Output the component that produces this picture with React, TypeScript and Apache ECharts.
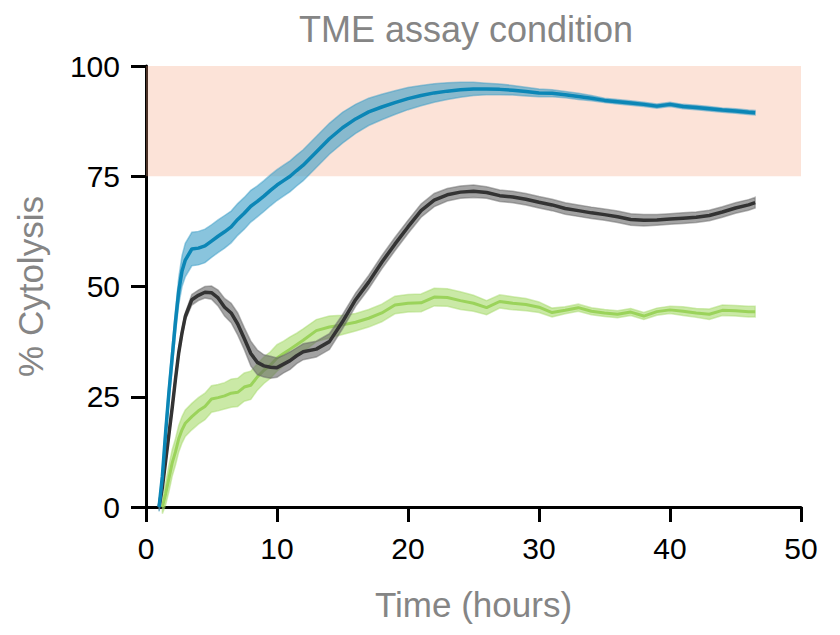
import React, { useEffect, useRef } from "react";
import * as echarts from "echarts";

const hours = [
  1, 1.25, 1.5, 1.75, 2, 2.25, 2.5, 2.75, 3,
  3.5, 4, 4.5, 5, 5.5, 6, 6.5, 7, 7.5, 8, 8.5, 9, 9.5, 10, 10.5, 11, 11.5, 12,
  13, 14, 15, 16, 17, 18, 19, 20, 21, 22, 23, 24, 25, 26, 27, 28, 29, 30,
  31, 32, 33, 34, 35, 36, 37, 38, 39, 40, 41, 42, 43, 44, 45, 46, 46.5,
];

const blueMean = [
  0, 7, 17, 26, 34, 42, 49, 53.5, 56,
  58.5, 58.7, 59.2, 60.3, 61.4, 62.4, 63.5, 65.2, 66.6, 68.2, 69.3, 70.5, 71.8, 73, 74, 75, 76.3, 77.5,
  80.5, 83.5, 86, 88, 89.6, 90.7, 91.7, 92.6, 93.3, 93.9, 94.3, 94.6, 94.8, 94.8, 94.7, 94.5, 94.2, 93.9,
  93.8, 93.5, 93.1, 92.7, 92.2, 91.9, 91.6, 91.3, 90.9, 91.3, 90.8, 90.6, 90.3, 90.0, 89.8, 89.5, 89.4,
];
const blueErr = [
  1, 1.5, 2, 2, 2.5, 2.5, 3, 3.5, 3.8,
  3.8, 3.8, 3.8, 3.7, 3.7, 3.7, 3.6, 3.6, 3.6, 3.6, 3.5, 3.5, 3.5, 3.5, 3.5, 3.5, 3.5, 3.5,
  3.5, 3.5, 3.5, 3.3, 3.1, 2.9, 2.7, 2.5, 2.3, 2.1, 1.9, 1.7, 1.5, 1.3, 1.2, 1.1, 1.0, 0.9,
  0.8, 0.7, 0.7, 0.6, 0.5, 0.5, 0.5, 0.5, 0.5, 0.5, 0.5, 0.5, 0.5, 0.5, 0.5, 0.5, 0.5,
];

const blackMean = [
  0, 4.5, 10.5, 16.5, 22.5, 29, 35, 39.5, 43.2,
  47, 48, 48.7, 48.6, 47.4, 45.3, 44, 41.5, 38.2, 34.8, 32.8, 32, 31.7, 31.6, 32.4, 33.2, 34.3, 35.2,
  35.8, 37.5, 42, 47, 51, 55.5, 59.6, 63.5, 67.2, 69.6, 70.8, 71.4, 71.6, 71.3, 70.6, 70.3, 69.8, 69.1,
  68.5, 67.7, 67.2, 66.7, 66.3, 65.8, 65.2, 65.0, 65.1, 65.3, 65.5, 65.7, 66.1, 66.9, 67.8, 68.5, 69,
];
const blackErr = [
  0.8, 0.8, 0.8, 0.8, 0.8, 0.8, 0.8, 0.8, 0.8,
  1.2, 1.2, 1.3, 1.5, 1.8, 2, 2.2, 2.5, 2.5, 2.8, 2.8, 2.5, 2.5, 2.2, 2, 2, 1.8, 1.8,
  1.8, 1.8, 1.6, 1.5, 1.5, 1.5, 1.5, 1.5, 1.5, 1.5, 1.4, 1.4, 1.4, 1.3, 1.3, 1.3, 1.3, 1.3,
  1.3, 1.3, 1.3, 1.3, 1.3, 1.3, 1.3, 1.3, 1.2, 1.2, 1.2, 1.2, 1.2, 1.2, 1.2, 1.2, 1.2,
];

const greenMean = [
  null, 0, 3, 6.5, 10, 12.5, 15.5, 17.5, 19,
  20.5, 21.8, 22.8, 24.5, 24.8, 25.2, 25.8, 26, 27.2, 27.6, 29.5, 31, 32.2, 33.8, 34.8, 35.8, 36.8, 37.8,
  40, 40.8, 41.3, 41.9, 42.8, 44, 45.8, 46.2, 46.3, 47.6, 47.5, 46.8, 46.2, 45.2, 46.6, 46.2, 45.9, 45.3,
  44.1, 44.6, 45.2, 44.4, 44.0, 43.7, 44.2, 43.3, 44.3, 44.7, 44.4, 44.0, 43.7, 44.6, 44.5, 44.3, 44.3,
];
const greenErr = [
  null, 1.5, 2.5, 3, 3, 3, 3, 3, 3,
  3, 3, 3, 3, 3, 3, 3.2, 3.2, 3.2, 3.2, 3, 3, 3, 3, 2.8, 2.8, 2.6, 2.6,
  2.5, 2.5, 2.2, 2, 2, 2, 2, 2, 2, 2, 2, 2, 1.8, 1.6, 1.5, 1.5, 1.4, 1.2,
  1, 0.8, 0.8, 0.8, 0.8, 0.8, 0.8, 0.8, 0.8, 0.8, 1, 1, 1.2, 1.2, 1.2, 1.2, 1.2,
];

const goalBand = [75, 100];
const xTicks = { min: 0, max: 50, interval: 10 };
const yTicks = { min: 0, max: 100, interval: 25 };

const FONT = "'Liberation Sans', Arial, Helvetica, sans-serif";
const GRAY = "#858585";

function validIdx(mean: (number | null)[], err: (number | null)[]) {
  return hours.map((_, i) => i).filter((i) => mean[i] != null && err[i] != null);
}

// SEM band: polygon through mean±err of every point, placed via the axis scales.
function bandSeries(key: string, mean: (number | null)[], err: (number | null)[], color: string, opacity: number, z: number) {
  const idx = validIdx(mean, err);
  const rows = idx.map((i) => [hours[i], (mean[i] as number) - (err[i] as number), (mean[i] as number) + (err[i] as number)]);
  return {
    name: key + "-sem",
    type: "custom",
    silent: true,
    z,
    data: [[0]],
    renderItem: (_params: any, api: any) => {
      const upper = rows.map((r) => api.coord([r[0], r[2]]));
      const lower = rows.map((r) => api.coord([r[0], r[1]])).reverse();
      return {
        type: "polygon",
        shape: { points: upper.concat(lower) },
        style: { fill: color, opacity, stroke: color, lineWidth: 1.5, strokeOpacity: 0.8 },
      };
    },
  };
}

function meanSeries(key: string, mean: (number | null)[], err: (number | null)[], color: string, width: number, z: number) {
  const idx = validIdx(mean, err);
  return {
    name: key,
    type: "line",
    data: idx.map((i) => [hours[i], mean[i]]),
    symbol: "none",
    lineStyle: { color, width },
    z,
  };
}

export default function App() {
  const ref = useRef<HTMLDivElement>(null);
  useEffect(() => {
    if (!ref.current) return;
    const chart = echarts.init(ref.current, null, { renderer: "svg" });
    const option = {
      animation: false,
      backgroundColor: "#ffffff",
      title: {
        text: "TME assay condition",
        left: 461,
        textAlign: "center",
        top: 6,
        textStyle: { fontSize: 36, fontWeight: "normal", color: GRAY, fontFamily: FONT },
      },
      grid: { left: 146, right: 39, top: 66, bottom: 128, containLabel: false },
      xAxis: {
        type: "value",
        ...xTicks,
        name: "Time (hours)",
        nameLocation: "middle",
        nameGap: 80,
        nameTextStyle: { fontSize: 35, color: GRAY, fontFamily: FONT },
        axisLine: { show: true, lineStyle: { color: "#000", width: 3 } },
        axisTick: { show: true, length: 15, lineStyle: { color: "#000", width: 3 } },
        axisLabel: { fontSize: 30, color: "#000", fontFamily: FONT, margin: 26 },
        splitLine: { show: false },
      },
      yAxis: {
        type: "value",
        ...yTicks,
        name: "% Cytolysis",
        nameLocation: "middle",
        nameGap: 98,
        nameTextStyle: { fontSize: 35, color: GRAY, fontFamily: FONT },
        axisLine: { show: true, lineStyle: { color: "#000", width: 3 } },
        axisTick: { show: true, length: 15, lineStyle: { color: "#000", width: 3 } },
        axisLabel: { fontSize: 30, color: "#000", fontFamily: FONT, margin: 26 },
        splitLine: { show: false },
      },
      series: [
        bandSeries("green", greenMean, greenErr, "#a6da6a", 0.6, 1),
        meanSeries("Green", greenMean, greenErr, "#9bd35b", 3, 2),
        bandSeries("black", blackMean, blackErr, "#666666", 0.6, 3),
        meanSeries("Black", blackMean, blackErr, "#333333", 3.5, 4),
        bandSeries("blue", blueMean, blueErr, "#3a9cc6", 0.6, 5),
        meanSeries("Blue", blueMean, blueErr, "#0b86b6", 3.5, 6),
        {
          name: "goal",
          type: "line",
          data: [],
          z: 10,
          silent: true,
          markArea: {
            silent: true,
            itemStyle: { color: "rgba(245,162,125,0.3)" },
            data: [[{ xAxis: xTicks.min, yAxis: goalBand[0] }, { xAxis: xTicks.max, yAxis: goalBand[1] }]],
          },
        },
      ],
    };
    chart.setOption(option as any);
    return () => chart.dispose();
  }, []);
  return (
    <div
      ref={ref}
      style={{ position: "fixed", left: 0, top: 0, width: 840, height: 635, background: "#fff" }}
    />
  );
}
